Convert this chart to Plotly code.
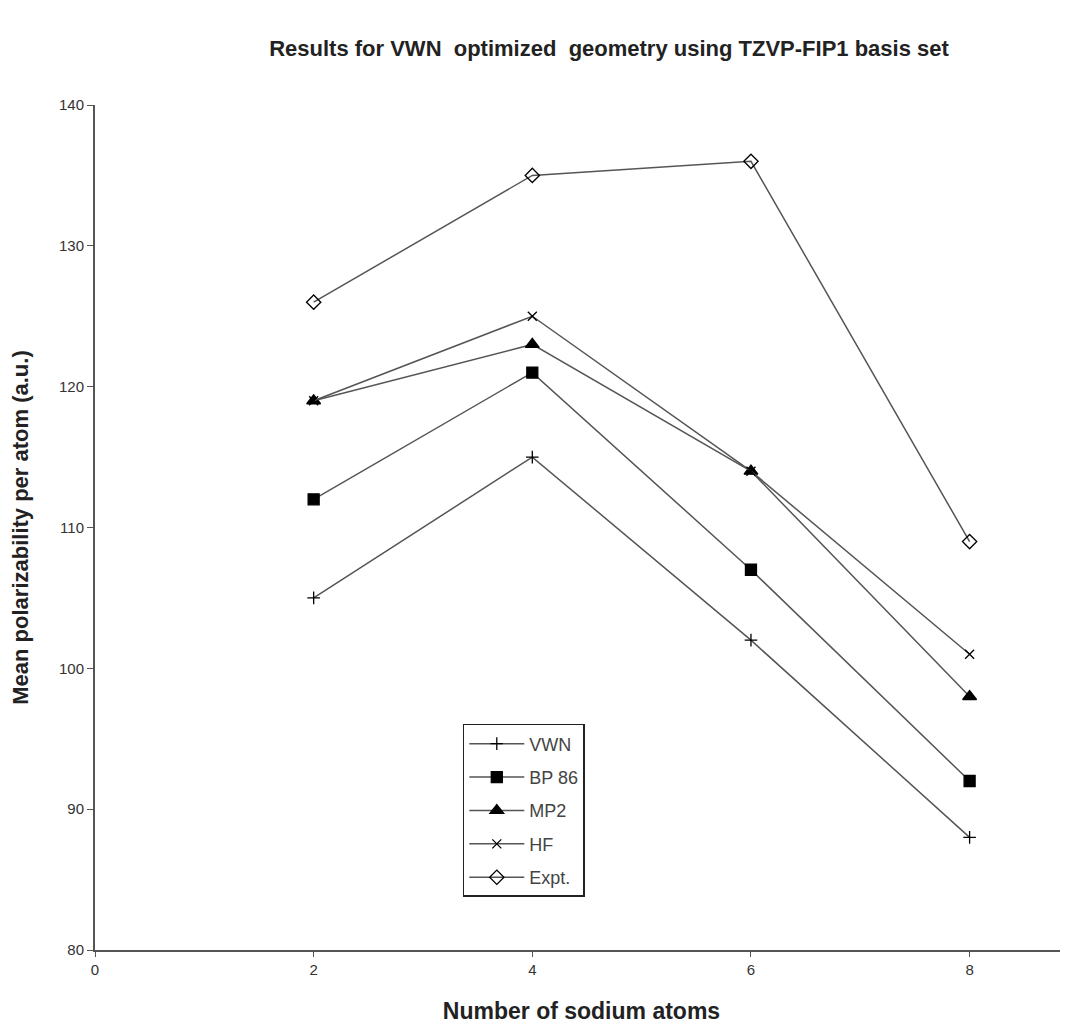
import plotly.graph_objects as go

atoms = [2, 4, 6, 8]
vwn = [105, 115, 102, 88]
bp86 = [112, 121, 107, 92]
mp2 = [119, 123, 114, 98]
hf = [119, 125, 114, 101]
expt = [126, 135, 136, 109]

series = [
    ("VWN", vwn, "cross-thin", 9),
    ("BP 86", bp86, "square", 11),
    ("MP2", mp2, "triangle-up", 12),
    ("HF", hf, "x-thin", 9),
    ("Expt.", expt, "diamond-open", 11),
]

fig = go.Figure()
for i, (name, vals, sym, sz) in enumerate(series):
    fig.add_trace(go.Scatter(
        x=atoms, y=vals, name=name, mode="lines+markers",
        legendgroup=f"g{i}",
        line=dict(color="#555555", width=1.5),
        marker=dict(symbol=sym, size=sz, color="black",
                    line=dict(color="black", width=1.3)),
    ))

bold = "Liberation Sans, Arial"
fig.update_layout(
    width=1060, height=1019,
    margin=dict(l=87, r=0, t=97, b=77),
    paper_bgcolor="white", plot_bgcolor="white",
    title=dict(text="<b>Results for VWN  optimized  geometry using TZVP-FIP1 basis set</b>",
               x=0.567, xanchor="center", y=0.96, yanchor="middle",
               font=dict(family=bold, size=22, color="#222222")),
    font=dict(family="Liberation Sans, Arial", size=14, color="#333333"),
    showlegend=True,
    legend=dict(x=0.378, y=0.2675, xanchor="left", yanchor="top",
                bordercolor="#222222", borderwidth=1.5, bgcolor="white",
                tracegroupgap=7, font=dict(size=18, color="#444444"),
                itemwidth=55),
    xaxis=dict(range=[0, 8.9], tickvals=[0, 2, 4, 6, 8], showgrid=False,
               zeroline=False, showline=True, linecolor="#555555", linewidth=2,
               ticks="outside", ticklen=5, tickcolor="#555555",
               tickfont=dict(size=15, color="#333333"),
               title=dict(text="<b>Number of sodium atoms</b>", standoff=26,
                          font=dict(family=bold, size=23, color="#222222"))),
    yaxis=dict(range=[80, 140], tickvals=[80, 90, 100, 110, 120, 130, 140],
               showgrid=False, zeroline=False, showline=True,
               linecolor="#555555", linewidth=2,
               ticks="outside", ticklen=6, tickcolor="#555555",
               tickfont=dict(size=15, color="#333333"),
               title=dict(text="<b>Mean polarizability per atom (a.u.)</b>", standoff=26,
                          font=dict(family=bold, size=22, color="#222222"))),
)

fig.write_html("out.html")
